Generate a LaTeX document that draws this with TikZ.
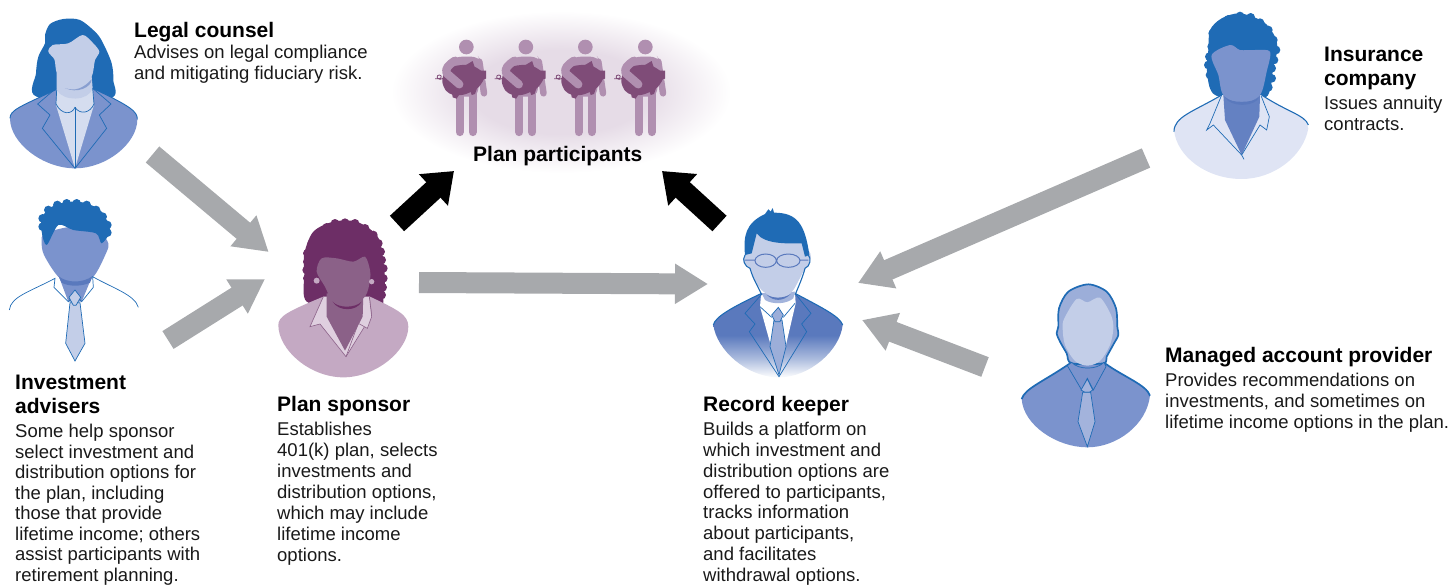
\documentclass[tikz,border=0pt]{standalone}
\usepackage{fontspec}
\setmainfont{Liberation Sans}
\usetikzlibrary{arrows.meta}
\definecolor{bluedark}{HTML}{1F6BB5}
\definecolor{bluemid}{HTML}{7B93CD}
\definecolor{blueshade}{HTML}{5A79BD}
\definecolor{bluelight}{HTML}{C3CEE8}
\definecolor{bluepale}{HTML}{DFE4F4}
\definecolor{plumdark}{HTML}{6D2E66}
\definecolor{plummid}{HTML}{8B6188}
\definecolor{plumlight}{HTML}{C4A9C3}
\definecolor{plumpale}{HTML}{DFCFDF}
\definecolor{pigcol}{HTML}{7F4C78}
\definecolor{walkcol}{HTML}{B08FB0}
\definecolor{haloc}{HTML}{E6DCE7}
\definecolor{arrowgray}{HTML}{A7A9AC}
\pgfdeclareradialshading{halofade}{\pgfpointorigin}{color(0bp)=(haloc); color(13bp)=(haloc); color(25bp)=(white); color(100bp)=(white)}
\pgfdeclareverticalshading{keeperfade}{100bp}{color(0bp)=(blueshade!6!white); color(26bp)=(blueshade!6!white); color(36bp)=(blueshade!50!white); color(50bp)=(blueshade); color(100bp)=(blueshade)}
\tikzset{
  headtxt/.style={anchor=north west,inner sep=0pt,align=left,font=\fontsize{21}{24}\selectfont\bfseries},
  bodytxt/.style={anchor=north west,inner sep=0pt,align=left,text=black!90,font=\fontsize{18.5}{21}\selectfont},
  grayarrow/.style={draw=arrowgray,line width=21pt,-{Triangle[length=33pt,width=38pt]}},
  blackarrow/.style={draw=black,line width=21pt,-{Triangle[length=28pt,width=41pt]}},
  thinline/.style={draw=#1,line width=0.7pt},
}
\newcommand{\curls}[2]{\foreach \p in {#2} \fill[#1] \p circle (13);}
\newcommand{\pigman}[1]{%
\begin{scope}[shift={(#1,0)},scale=1/3]
\fill[walkcol] (229,141) circle (22);
\fill[walkcol,rounded corners=7pt] (165,195) -- (195,170) -- (265,170) -- (275,185) -- (262,290) -- (195,290) -- cycle;
\draw[walkcol,line width=8.3pt,line cap=round] (209,280) -- (209,396);
\draw[walkcol,line width=8.3pt,line cap=round] (248,280) -- (248,396);
\draw[walkcol,line width=6.5pt,line cap=round] (268,185) -- (282,280);
\fill[pigcol] plot[smooth cycle] coordinates {(157,245) (165,215) (195,198) (240,195) (270,210) (285,228) (265,262) (225,283) (190,285) (168,272)};
\fill[pigcol] (228,195) -- (248,183) -- (255,205) -- cycle;
\fill[pigcol] (270,212) -- (288,212) -- (288,236) -- (265,240) -- cycle;
\fill[pigcol] (185,270) -- (210,280) -- (200,296) -- (188,292) -- cycle;
\fill[pigcol] (240,270) -- (262,262) -- (255,282) -- (245,285) -- cycle;
\draw[pigcol,line width=0.8pt] (160,235) -- (150,238) .. controls (140,238) and (138,225) .. (148,225) .. controls (156,225) and (156,236) .. (146,236) -- (135,236);
\draw[walkcol,line width=8.3pt,line cap=round,line join=round] (195,182) .. controls (175,195) and (165,205) .. (170,220) -- (208,253);
\end{scope}}
\begin{document}
\begin{tikzpicture}[x=1pt,y=-1pt]
\useasboundingbox (0,0) rectangle (1449,584);
% halo behind the participants
\shade[shading=halofade] (561,92) ellipse (170 and 81);
\pigman{390}
\pigman{449.5}
\pigman{509}
\pigman{569}
% legal counsel
\begin{scope}[scale=1/3]
\fill[bluedark] plot[smooth cycle] coordinates {(135,105) (150,72) (190,57) (240,60) (290,100) (312,135) (335,190) (340,240) (330,295) (110,290) (108,220) (115,170) (135,130)};
\fill[bluemid] (30,355) .. controls (30,330) and (60,320) .. (170,268) -- (278,265) .. controls (395,320) and (412,335) .. (412,358) .. controls (412,430) and (320,505) .. (225,505) .. controls (130,505) and (30,430) .. (30,355) -- cycle;
\draw[bluedark,line width=0.9pt] (30,355) .. controls (30,330) and (60,320) .. (170,268);
\draw[bluedark,line width=0.9pt] (278,265) .. controls (395,320) and (412,335) .. (412,358);
\fill[bluelight!70!white] (170,270) -- (168,315) -- (225,505) -- (282,315) -- (278,265) -- cycle;
\fill[bluelight] plot[smooth cycle] coordinates {(145,155) (158,135) (205,130) (248,105) (278,128) (298,155) (285,180) (275,230) (240,265) (205,270) (180,250) (168,210) (163,178)};
\fill[bluelight] (170,220) -- (170,270) .. controls (190,305) and (265,305) .. (278,265) -- (275,230) -- cycle;
\fill[blueshade!55!bluelight] (195,264) .. controls (225,275) and (250,265) .. (275,238) .. controls (275,262) and (230,282) .. (195,264);
\draw[thinline=bluedark] (168,265) -- (113,312) -- (150,345) -- (127,385) -- (225,505) -- (320,385) -- (298,345) -- (333,312) -- (278,265);
\draw[thinline=bluedark] (168,312) .. controls (185,345) and (215,345) .. (225,322) .. controls (240,345) and (270,340) .. (282,312);
\draw[thinline=bluedark] (225,322) -- (225,505);
\draw[thinline=bluedark] (168,312) -- (170,270) (282,312) -- (278,265);
\end{scope}
% investment advisers
\begin{scope}[scale=1/3]
\fill[bluemid] plot[smooth cycle] coordinates {(125,725) (135,700) (220,680) (300,700) (325,730) (318,760) (280,830) (225,850) (175,830) (132,765)};
\fill[bluemid] (175,825) -- (205,905) -- (245,905) -- (278,825) -- cycle;
\fill[blueshade] (175,828) .. controls (200,850) and (250,850) .. (278,828) -- (270,848) .. controls (245,860) and (205,860) .. (185,848) -- cycle;
\fill[bluedark] plot[smooth cycle] coordinates {(125,695) (127,650) (165,615) (235,605) (300,630) (330,690) (305,730) (288,700) (220,690) (175,675) (140,735)};
\curls{bluedark}{(128,680),(128,655),(145,630),(172,615),(200,610),(230,610),(260,615),(288,630),(308,650),(322,675),(322,698)}
\draw[thinline=bluedark] (28,930) .. controls (32,890) and (90,875) .. (165,835) -- (162,862) -- (205,905) -- (225,880) -- (245,905) -- (280,862) -- (278,830) .. controls (340,865) and (405,885) .. (415,922);
\draw[thinline=bluedark,fill=bluelight] (210,908) -- (197,1030) -- (225,1083) -- (255,1030) -- (240,908) -- cycle;
\draw[thinline=bluedark,fill=bluelight] (207,892) -- (225,870) -- (242,892) -- (228,916) -- (220,916) -- cycle;
\end{scope}
% plan sponsor
\begin{scope}[shift={(270,200)},scale=1/3]
\fill[plumdark] plot[smooth cycle] coordinates {(110,305) (103,220) (103,160) (130,95) (190,65) (260,65) (320,105) (337,160) (345,240) (340,290) (330,318) (225,320)};
\curls{plumdark}{(112,160),(112,185),(110,210),(112,235),(122,262),(118,285),(125,130),(145,105),(170,82),(195,70),(225,68),(255,70),(285,85),(310,105),(325,130),(332,155),(335,180),(340,205),(340,235),(338,262),(335,285)}
\fill[plumlight] (25,375) .. controls (25,350) and (50,335) .. (160,290) -- (300,290) .. controls (385,330) and (415,345) .. (415,380) .. controls (415,450) and (320,532) .. (220,532) .. controls (120,532) and (25,450) .. (25,375) -- cycle;
\fill[plumpale,draw=plummid,line width=0.6pt] (160,290) -- (120,380) -- (150,372) -- (228,470) -- (305,345) -- (298,290) -- cycle;
\fill[plumpale,draw=plummid,line width=0.6pt] (298,290) -- (305,350) -- (292,385) -- (265,370) -- (228,470);
\fill[plummid] plot[smooth cycle] coordinates {(140,215) (155,175) (200,175) (250,185) (285,170) (300,210) (300,240) (285,290) (230,325) (190,310) (165,260)};
\fill[plummid] (170,280) -- (170,350) -- (225,452) -- (278,350) -- (280,280) -- cycle;
\fill[plumdark] (188,305) .. controls (205,325) and (255,325) .. (275,305) .. controls (260,335) and (205,335) .. (188,305);
\fill[plumlight] (140,242) circle (9) (305,245) circle (8);
\end{scope}
% record keeper
\begin{scope}[shift={(700,200)},scale=1/3]
\shade[shading=keeperfade] (40,375) .. controls (45,350) and (100,320) .. (185,280) -- (285,280) .. controls (370,325) and (420,350) .. (428,375) .. controls (420,450) and (330,532) .. (237,532) .. controls (140,532) and (50,450) .. (40,375) -- cycle;
\draw[bluedark,line width=1.1pt] (40,375) .. controls (45,350) and (100,320) .. (185,280) (285,280) .. controls (370,325) and (420,350) .. (428,375);
\fill[white] (183,285) -- (180,320) -- (237,525) -- (287,310) -- (285,280) -- cycle;
\draw[thinline=bluedark] (183,285) -- (135,340) -- (165,372) -- (148,395) -- (237,530) -- (320,395) -- (305,372) -- (333,340) -- (285,280);
\fill[bluemid!70!white] (185,280) -- (195,300) .. controls (220,315) and (260,312) .. (280,295) -- (285,275) -- cycle;
\fill[bluelight] plot[smooth cycle] coordinates {(135,165) (130,185) (150,205) (160,235) (185,270) (215,290) (250,295) (280,270) (310,215) (330,185) (325,150) (250,90) (170,100)};
\fill[blueshade] (200,284) .. controls (220,296) and (250,296) .. (272,282) .. controls (250,305) and (220,305) .. (200,284);
\draw[bluedark,line width=1.1pt] (135,165) .. controls (125,180) and (135,200) .. (150,205) .. controls (160,240) and (175,260) .. (185,285) (285,285) .. controls (300,250) and (310,225) .. (315,205) .. controls (330,200) and (335,175) .. (325,165);
\fill[bluedark] (135,165) .. controls (130,110) and (135,70) .. (195,42) -- (205,28) -- (212,35) -- (218,24) -- (222,38) .. controls (290,38) and (315,70) .. (328,165) -- (315,170) -- (305,130) .. controls (270,130) and (195,135) .. (170,100) -- (155,160) -- cycle;
\draw[blueshade,line width=1pt] (197,182) ellipse (32 and 20) (265,182) ellipse (35 and 20) (229,180) -- (230,180) (135,180) -- (165,180) (300,180) -- (325,180);
\draw[thinline=bluedark,fill=bluemid!75!white] (222,360) -- (210,440) -- (237,525) -- (258,440) -- (246,360) -- cycle;
\draw[thinline=bluedark,fill=bluemid!75!white] (215,345) -- (235,322) -- (250,345) -- (240,365) -- (225,365) -- cycle;
\draw[thinline=bluedark] (180,320) -- (215,352) (285,310) -- (250,352);
\end{scope}
% insurance company
\begin{scope}[shift={(1160,0)},scale=1/3]
\fill[bluedark] plot[smooth cycle] coordinates {(150,265) (140,200) (145,150) (150,90) (185,55) (240,40) (310,65) (345,110) (352,150) (340,200) (330,270) (305,295) (180,290)};
\curls{bluedark}{(148,170),(145,195),(150,225),(160,250),(172,270),(155,140),(158,100),(180,75),(205,58),(240,48),(272,52),(300,68),(325,90),(340,120),(348,150),(342,180),(335,205),(335,235),(325,262)}
\fill[bluepale] (42,390) .. controls (50,350) and (100,335) .. (185,285) -- (305,285) .. controls (380,335) and (440,345) .. (445,385) .. controls (430,470) and (340,537) .. (245,537) .. controls (140,537) and (50,470) .. (42,390) -- cycle;
\draw[bluedark,line width=1.1pt] (42,395) .. controls (42,350) and (100,335) .. (185,285) (305,285) .. controls (380,335) and (435,345) .. (445,375);
\fill[blueshade!70!bluemid] (190,285) -- (195,360) -- (245,465) -- (298,350) -- (300,285) -- cycle;
\fill[bluemid] plot[smooth cycle] coordinates {(155,165) (210,135) (240,150) (285,150) (330,155) (320,215) (300,285) (245,310) (190,285) (175,225)};
\fill[blueshade] (195,292) .. controls (210,310) and (280,310) .. (297,292) .. controls (285,322) and (210,322) .. (195,292);
\draw[thinline=bluedark] (185,285) -- (150,370) -- (140,390) -- (160,375) -- (245,465) -- (252,478);
\draw[thinline=bluedark] (303,287) -- (328,350) -- (320,390) -- (300,375) -- (245,465);
\end{scope}
% managed account provider
\begin{scope}[shift={(1010,275)},scale=1/3]
\fill[bluemid] (35,372) .. controls (45,340) and (100,320) .. (180,265) -- (285,265) .. controls (340,305) and (410,330) .. (420,362) .. controls (410,450) and (320,517) .. (232,517) .. controls (140,517) and (40,450) .. (35,372) -- cycle;
\draw[bluedark,line width=1.7pt] (35,372) .. controls (45,340) and (100,320) .. (180,265) (285,265) .. controls (340,305) and (410,330) .. (420,362);
\filldraw[fill=bluemid!75!white,draw=bluedark,line width=1.7pt] plot[smooth cycle] coordinates {(145,155) (147,100) (175,50) (235,28) (290,50) (318,100) (322,155) (325,180) (312,205) (290,245) (280,265) (185,265) (170,235) (150,200) (140,175)};
\fill[bluelight] plot[smooth cycle] coordinates {(163,130) (200,72) (232,82) (270,68) (303,120) (310,160) (300,210) (270,258) (232,272) (195,258) (165,210) (158,160)};
\draw[thinline=bluedark,fill=bluemid] (172,272) -- (185,262) .. controls (205,285) and (260,285) .. (282,262) -- (288,275) -- (250,345) -- (232,310) -- (215,345) -- cycle;
\draw[thinline=bluedark,fill=bluemid!70!white] (213,345) -- (232,312) -- (248,345) -- (238,352) -- (225,352) -- cycle;
\draw[thinline=bluedark,fill=bluemid!70!white] (218,352) -- (204,440) -- (232,515) -- (255,440) -- (242,352) -- cycle;
\end{scope}
% anchors of the arrows
\coordinate (counselout) at (152.5,154.5);
\coordinate (sponsorinA) at (268.7,252);
\coordinate (adviserout) at (168,340);
\coordinate (sponsorinB) at (265,279);
\coordinate (sponsorout) at (419,282.5);
\coordinate (keeperinA) at (708,284);
\coordinate (sponsorup) at (397,223.5);
\coordinate (planinA) at (454,171);
\coordinate (keeperup) at (719.5,223.5);
\coordinate (planinB) at (662,171);
\coordinate (insurerout) at (1146,158);
\coordinate (keeperinB) at (858,283);
\coordinate (managerout) at (985,367);
\coordinate (keeperinC) at (862,320);
\draw[grayarrow] (counselout) -- (sponsorinA);
\draw[grayarrow] (adviserout) -- (sponsorinB);
\draw[grayarrow] (sponsorout) -- (keeperinA);
\draw[grayarrow] (insurerout) -- (keeperinB);
\draw[grayarrow] (managerout) -- (keeperinC);
\draw[blackarrow] (sponsorup) -- (planinA);
\draw[blackarrow] (keeperup) -- (planinB);
% texts
\node[headtxt] (counselhead) at (134,22) {Legal counsel};
\node[bodytxt] (counselbody) at (134,45) {Advises on legal compliance\\and mitigating fiduciary risk.};
\node[headtxt] (adviserhead) at (15,374.5) {Investment\\advisers};
\node[bodytxt,font=\fontsize{18.5}{20.5}\selectfont] (adviserbody) at (15,424) {Some help sponsor\\select investment and\\distribution options for\\the plan, including\\those that provide\\lifetime income; others\\assist participants with\\retirement planning.};
\node[headtxt] (sponsorhead) at (277,396) {Plan sponsor};
\node[bodytxt] (sponsorbody) at (277,422) {Establishes\\401(k) plan, selects\\investments and\\distribution options,\\which may include\\lifetime income\\options.};
\node[headtxt] (keeperhead) at (703,396) {Record keeper};
\node[bodytxt,font=\fontsize{18.5}{20.8}\selectfont] (keeperbody) at (703,422) {Builds a platform on\\which investment and\\distribution options are\\offered to participants,\\tracks information\\about participants,\\and facilitates\\withdrawal options.};
\node[headtxt] (planhead) at (473,146) {Plan participants};
\node[headtxt] (insurerhead) at (1324,46.5) {Insurance\\company};
\node[bodytxt] (insurerbody) at (1324,96) {Issues annuity\\contracts.};
\node[headtxt] (managerhead) at (1165,347) {Managed account provider};
\node[bodytxt] (managerbody) at (1165,373) {Provides recommendations on\\investments, and sometimes on\\lifetime income options in the plan.};
\end{tikzpicture}
\end{document}
